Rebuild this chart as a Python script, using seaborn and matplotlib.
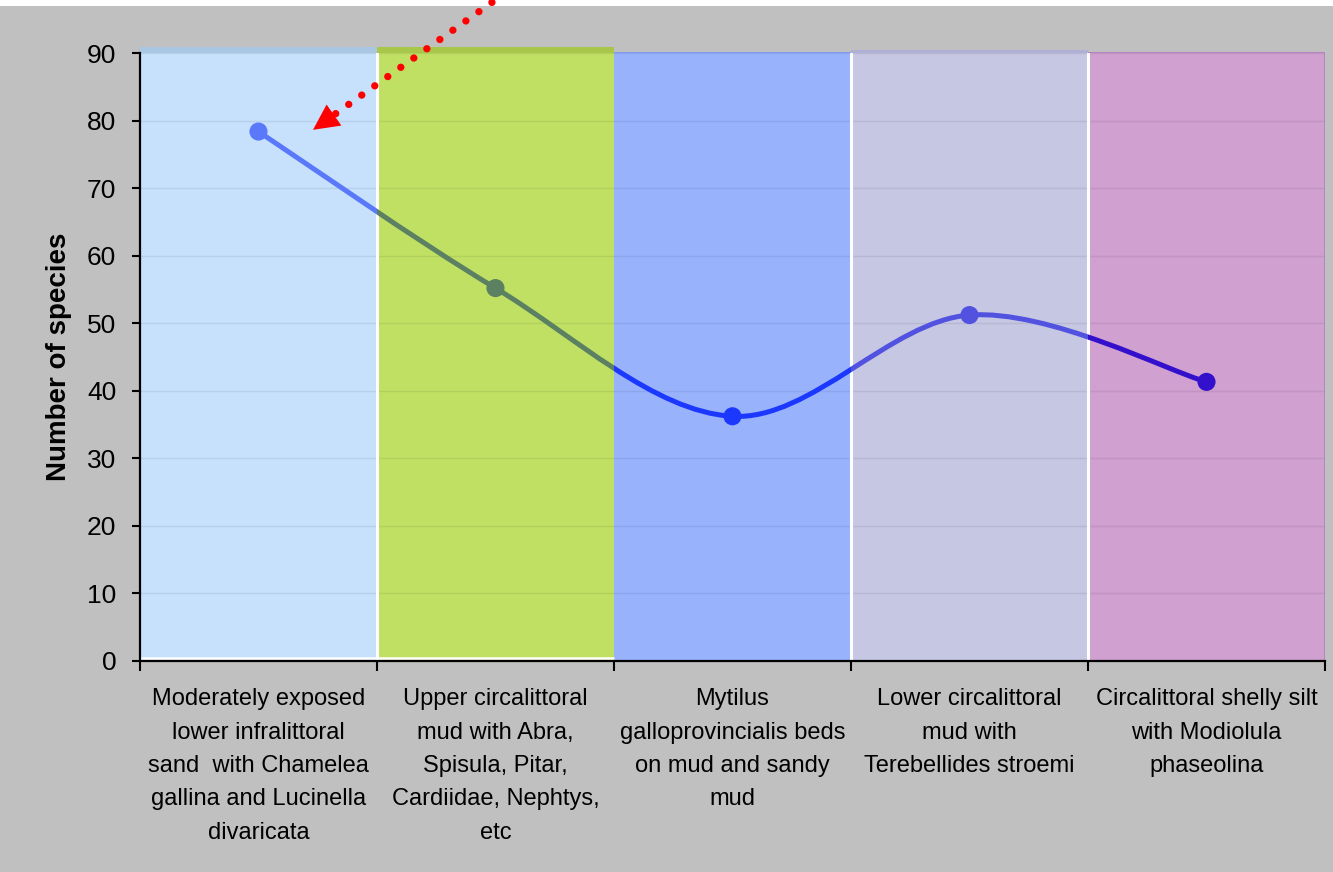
import numpy as np
import matplotlib
matplotlib.use("Agg")
import matplotlib.pyplot as plt
import matplotlib.transforms as mtransforms
from matplotlib.path import Path
from matplotlib.patches import PathPatch, Rectangle
import seaborn as sns

# Habitat types along the x axis
habitats = [
    "Moderately exposed\nlower infralittoral\nsand  with Chamelea\ngallina and Lucinella\ndivaricata",
    "Upper circalittoral\nmud with Abra,\nSpisula, Pitar,\nCardiidae, Nephtys,\netc",
    "Mytilus\ngalloprovincialis beds\non mud and sandy\nmud",
    "Lower circalittoral\nmud with\nTerebellides stroemi",
    "Circalittoral shelly silt\nwith Modiolula\nphaseolina",
]
# Number of species recorded in each habitat
species = [78.4, 55.2, 36.2, 51.2, 41.3]
y_ticks = [0, 10, 20, 30, 40, 50, 60, 70, 80, 90]

band_colors = ["#c7e1fd", "#c0e064", "#98b2fc", "#c6c7e3", "#d0a0d0"]
band_top_colors = ["#a9c6e2", "#a8c74a", "#7f9cee", "#b0b0d6", "#b683c0"]
band_top_heights = [0.89, 0.98, 0.2, 0.5, 0.15]
line_colors = ["#5a78fa", "#5b8062", "#1c38ff", "#5252e0", "#3210cc"]

sns.set_theme(style="white")
plt.rcParams["font.family"] = ["Liberation Sans", "DejaVu Sans"]

fig = plt.figure(figsize=(13.33, 8.72), dpi=100, facecolor="#c0c0c0")
# thin white strip along the top edge, kept beneath everything else
fig.patches.append(Rectangle((0, 1 - 6 / 872), 1, 6 / 872, transform=fig.transFigure,
                             facecolor="white", edgecolor="none", zorder=-5))
ax = fig.add_axes([0.105, 0.2425, 0.889, 0.6964])
ax.set_facecolor("#c0c0c0")
ax.patch.set_alpha(0)

n = len(species)
xs = np.arange(n)
ax.set_xlim(-0.5, n - 0.5)
ax.set_ylim(0, 90)

# coloured habitat bands
for i in range(n):
    ax.axvspan(i - 0.5, i + 0.5, color=band_colors[i], lw=0, zorder=0)
    ax.add_patch(Rectangle((i - 0.5, 90), 1, band_top_heights[i], facecolor=band_top_colors[i],
                           edgecolor="none", zorder=0.3, clip_on=False))
for b in [0.5, 2.5, 3.5]:
    ax.axvline(b, color="white", lw=2.2, zorder=0.6)
ax.axvline(n - 0.5, color=band_top_colors[-1], lw=2, zorder=0.6)
ax.hlines(0.35, -0.5, 1.5, color="white", lw=1.8, zorder=0.6)

# smooth curve through the points (Catmull-Rom as cubic Bezier segments)
pts = np.column_stack([xs, species]).astype(float)
verts = [pts[0]]
codes = [Path.MOVETO]
for i in range(n - 1):
    p0 = pts[i - 1] if i > 0 else pts[i]
    p1 = pts[i]
    p2 = pts[i + 1]
    p3 = pts[i + 2] if i + 2 < n else pts[i + 1]
    verts += [p1 + (p2 - p0) / 6, p2 - (p3 - p1) / 6, p2]
    codes += [Path.CURVE4] * 3
curve = Path(verts, codes)

# one copy of the curve per band, each clipped to its band and coloured to match
for i in range(n):
    seg = PathPatch(curve, fill=False, edgecolor=line_colors[i], lw=3.6,
                    capstyle="round", joinstyle="round", zorder=3)
    ax.add_patch(seg)
    seg.set_clip_path(Rectangle((i - 0.5, -10), 1, 120, transform=ax.transData))

sns.scatterplot(x=xs, y=species, hue=habitats, palette=line_colors, s=170,
                edgecolor="none", legend=False, zorder=4, ax=ax)

# red dotted pointer to the highest value
tip = mtransforms.offset_copy(ax.transData, fig=fig, x=54.5, y=1.7, units="dots")
ax.annotate("", xy=(xs[0], species[0]), xycoords=tip,
            xytext=(205, 146), textcoords="offset pixels",
            arrowprops=dict(arrowstyle="-", color="#ff0000", lw=5.3,
                            linestyle=(0, (0.001, 2.17)), capstyle="round",
                            shrinkA=0, shrinkB=17),
            annotation_clip=False)
ax.annotate("", xy=(xs[0], species[0]), xycoords=tip,
            xytext=(19.2, 13.5), textcoords="offset pixels",
            arrowprops=dict(arrowstyle="-|>,head_length=18.5,head_width=9.25",
                            mutation_scale=1, color="#ff0000", lw=0,
                            shrinkA=0, shrinkB=0),
            annotation_clip=False)

# axes styling
for side in ["top", "right"]:
    ax.spines[side].set_visible(False)
for side in ["left", "bottom"]:
    ax.spines[side].set_color("black")
    ax.spines[side].set_linewidth(1.6)
    ax.spines[side].set_zorder(5)

ax.set_yticks(y_ticks)
ax.set_yticklabels([str(v) for v in y_ticks], fontsize=19)
ax.tick_params(axis="y", which="major", left=True, length=6, width=1.5,
               color="black", pad=11, labelcolor="black")

ax.set_xticks(xs)
ax.set_xticklabels(habitats, fontsize=17, linespacing=1.67, color="#000000")
ax.set_xticks(np.arange(-0.5, n, 1.0), minor=True)
ax.tick_params(axis="x", which="major", bottom=True, length=0, pad=20)
ax.tick_params(axis="x", which="minor", bottom=True, length=7, width=1.5, color="black")

# faint horizontal gridlines over the bands
ax.xaxis.grid(False)
ax.yaxis.grid(True)
ax.tick_params(axis="y", which="major", grid_color="#000000", grid_alpha=0.07, grid_linewidth=1)

ax.set_ylabel("Number of species", fontsize=20, fontweight="bold", color="black", labelpad=11)
ax.set_xlabel("")

fig.savefig("out.png", dpi=100, facecolor=fig.get_facecolor())
